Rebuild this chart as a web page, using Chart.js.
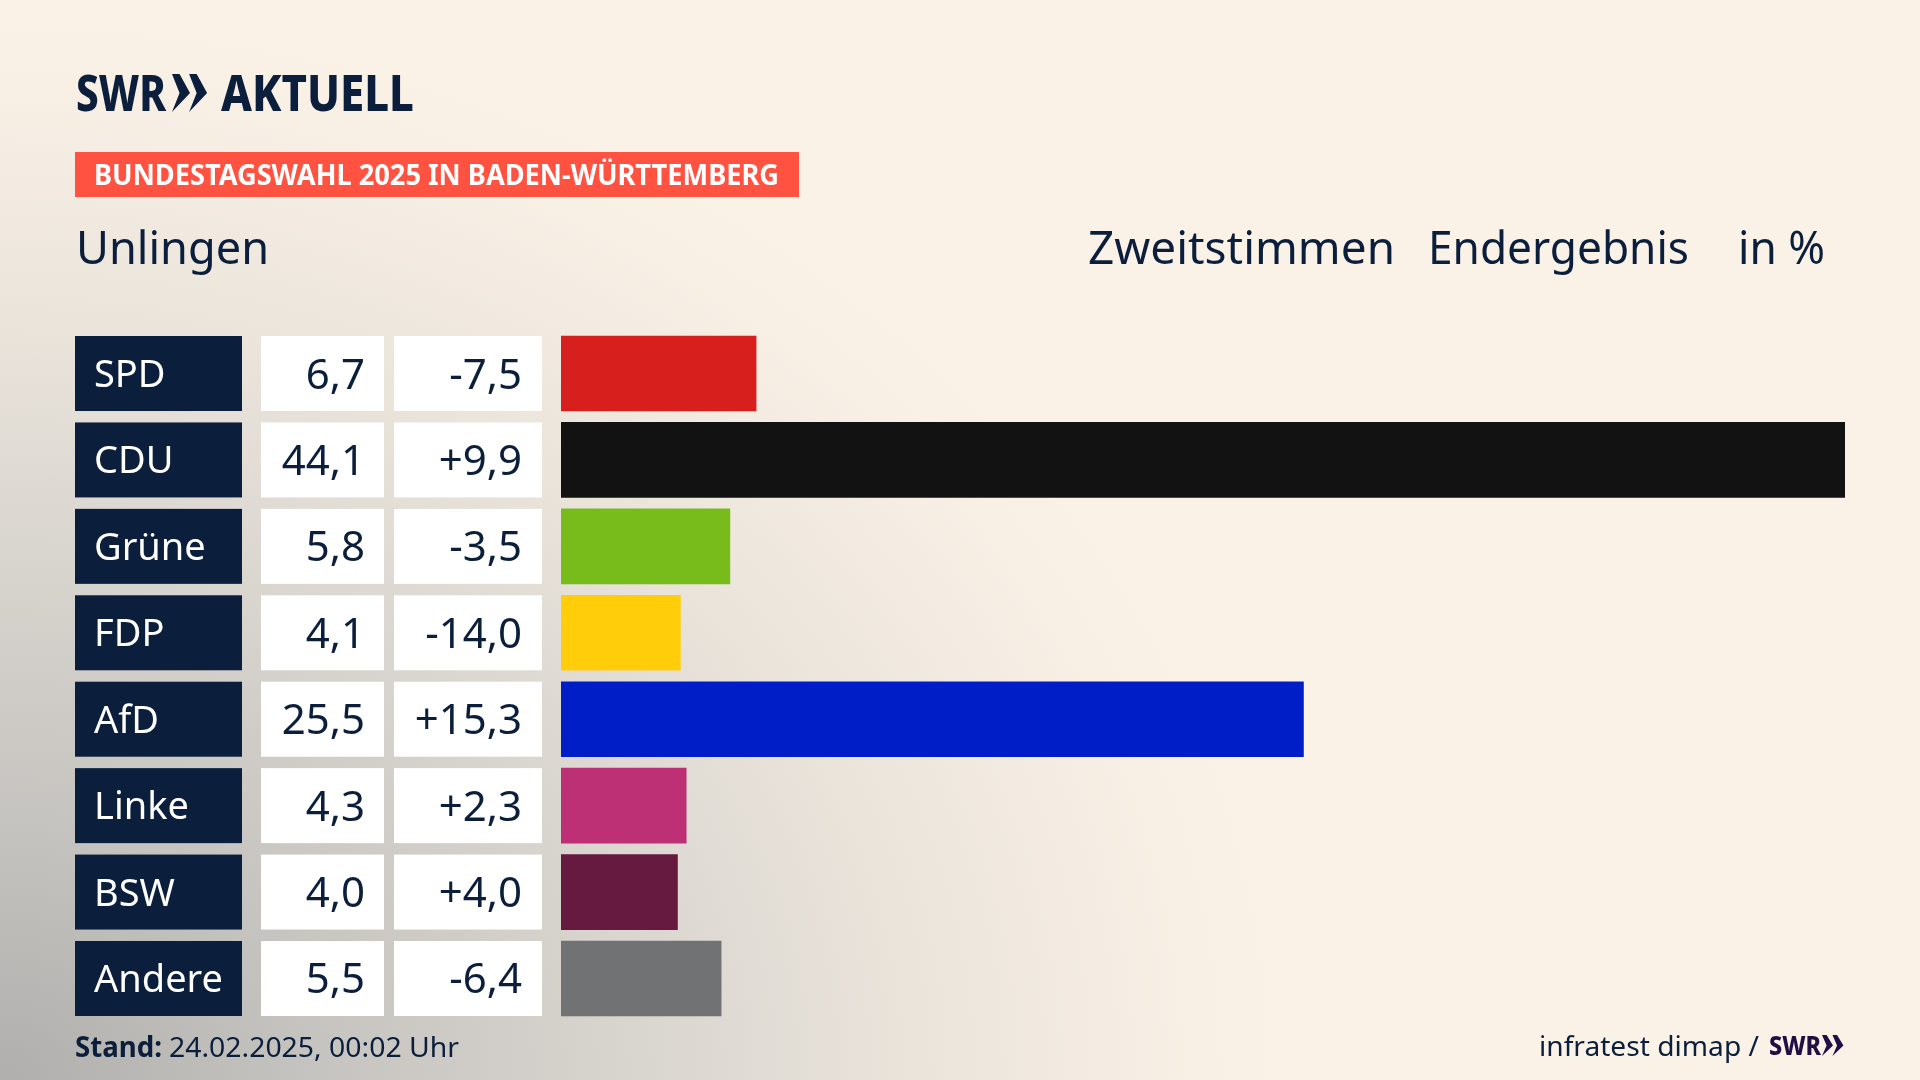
<!DOCTYPE html>
<html lang="de">
<head>
<meta charset="utf-8">
<title>Bundestagswahl 2025 Unlingen</title>
<script src="https://cdn.jsdelivr.net/npm/chart.js@4"></script>
<style>
  html, body { margin: 0; padding: 0; width: 1920px; height: 1080px; overflow: hidden; }
  body {
    background-color: #fbf2e7;
    background-image:
      radial-gradient(ellipse 1280px 1060px at 0 100%, #b0afad 0%, #c6c4c0 25%, #d9d5cf 50%, #e9e3da 70%, #f5ede3 88%, rgba(251,242,231,0) 100%);
  }
  canvas { display: block; }
</style>
</head>
<body>
<canvas id="chart" width="1920" height="1080"></canvas>
<script>
const parties = ['SPD', 'CDU', 'Grüne', 'FDP', 'AfD', 'Linke', 'BSW', 'Andere'];
const results = [6.7, 44.1, 5.8, 4.1, 25.5, 4.3, 4.0, 5.5];
const changes = [-7.5, 9.9, -3.5, -14.0, 15.3, 2.3, 4.0, -6.4];
const barColors = ['#d71f1d', '#121212', '#78bc1b', '#ffcd0a', '#001ec8', '#bd3075', '#661a3f', '#717274'];

const navy = '#0b1f3d';
const textFont = '"Noto Sans"';
const rowHeight = 75;

const fmt = v => Math.abs(v).toFixed(1).replace('.', ',');
const fmtChange = v => (v < 0 ? '-' : '+') + fmt(v);

// squeezes text to a measured width, the original font is narrower than anything installed
function fitText(ctx, text, x, y, width) {
  const w = ctx.measureText(text).width;
  ctx.save();
  ctx.translate(x, y);
  ctx.scale(width / w, 1);
  ctx.textAlign = 'left';
  ctx.fillText(text, 0, 0);
  ctx.restore();
}

function chevrons(ctx, x, top, bottom, w, color) {
  const mid = (top + bottom) / 2;
  ctx.fillStyle = color;
  [0, w * 0.95].forEach(off => {
    ctx.beginPath();
    ctx.moveTo(x + off, top);
    ctx.lineTo(x + off + w * 0.42, top);
    ctx.lineTo(x + off + w, mid);
    ctx.lineTo(x + off, bottom);
    ctx.lineTo(x + off + w * 0.42, mid);
    ctx.closePath();
    ctx.fill();
  });
}

const tablePlugin = {
  id: 'table',
  beforeDatasetsDraw(chart) {
    const { ctx, scales: { y } } = chart;
    ctx.save();
    ctx.textBaseline = 'alphabetic';
    parties.forEach((name, i) => {
      const mid = y.getPixelForValue(i);
      const top = mid - rowHeight / 2;
      ctx.fillStyle = navy;
      ctx.fillRect(75, top, 167, rowHeight);
      ctx.fillStyle = '#ffffff';
      ctx.fillRect(261, top, 123, rowHeight);
      ctx.fillRect(394, top, 148, rowHeight);

      ctx.textAlign = 'left';
      ctx.font = `38px ${textFont}`;
      ctx.fillText(name, 94, mid + 13.5);
      ctx.fillStyle = navy;
      ctx.textAlign = 'right';
      ctx.font = `42px ${textFont}`;
      ctx.fillText(fmt(results[i]), 365, mid + 15);
      ctx.fillText(fmtChange(changes[i]), 522, mid + 15);
    });
    ctx.restore();
  }
};

const framePlugin = {
  id: 'frame',
  afterDraw(chart) {
    const { ctx } = chart;
    ctx.save();
    ctx.textBaseline = 'alphabetic';

    // logo
    ctx.fillStyle = navy;
    ctx.font = `800 50px ${textFont}`;
    fitText(ctx, 'SWR', 76, 111, 90);
    chevrons(ctx, 172, 74, 112, 18, navy);
    ctx.fillStyle = navy;
    fitText(ctx, 'AKTUELL', 221, 111, 193);

    // banner
    ctx.fillStyle = '#ff5240';
    ctx.fillRect(75, 152, 724, 45);
    ctx.fillStyle = '#ffffff';
    ctx.font = `bold 28px ${textFont}`;
    fitText(ctx, 'BUNDESTAGSWAHL 2025 IN BADEN-WÜRTTEMBERG', 94, 185, 685);

    // headings
    ctx.fillStyle = navy;
    ctx.font = `46px ${textFont}`;
    fitText(ctx, 'Unlingen', 76, 264, 193);
    fitText(ctx, 'Zweitstimmen', 1088, 264, 307);
    fitText(ctx, 'Endergebnis', 1428, 264, 261);
    fitText(ctx, 'in %', 1738, 264, 87);

    // footer
    ctx.font = `bold 28px ${textFont}`;
    fitText(ctx, 'Stand:', 75, 1057, 87);
    ctx.font = `28px ${textFont}`;
    fitText(ctx, '24.02.2025, 00:02 Uhr', 169, 1057, 290);
    fitText(ctx, 'infratest dimap /', 1539, 1056, 220);
    ctx.fillStyle = '#1f0f45';
    ctx.font = `800 27px ${textFont}`;
    fitText(ctx, 'SWR', 1769, 1055, 52);
    chevrons(ctx, 1822, 1035, 1056, 11, '#1f0f45');
    ctx.restore();
  }
};

new Chart(document.getElementById('chart').getContext('2d'), {
  type: 'bar',
  data: {
    labels: parties,
    datasets: [{
      data: results,
      backgroundColor: barColors,
      borderWidth: 0,
      barThickness: rowHeight
    }]
  },
  options: {
    indexAxis: 'y',
    responsive: false,
    animation: false,
    devicePixelRatio: 1,
    layout: { padding: { left: 561, right: 75, top: 330.3, bottom: 58.3 } },
    plugins: { legend: { display: false }, title: { display: false }, tooltip: { enabled: false } },
    scales: {
      x: { display: false, min: 0, max: 44.1 },
      y: { display: false }
    }
  },
  plugins: [tablePlugin, framePlugin]
});
</script>
</body>
</html>
